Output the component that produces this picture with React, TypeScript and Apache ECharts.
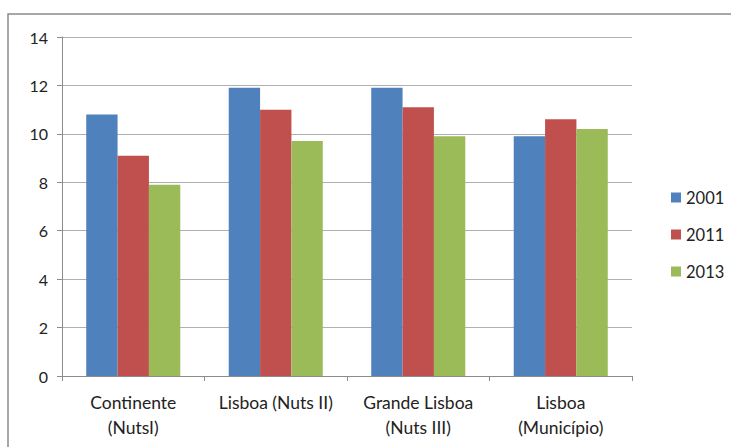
import React, { useEffect, useRef } from "react";
import * as echarts from "echarts";

const categories = [
  "Continente\n(NutsI)",
  "Lisboa (Nuts II)",
  "Grande Lisboa\n(Nuts III)",
  "Lisboa\n(Município)",
];
const years = ["2001", "2011", "2013"];
const values2001 = [10.8, 11.9, 11.9, 9.9];
const values2011 = [9.1, 11.0, 11.1, 10.6];
const values2013 = [7.9, 9.7, 9.9, 10.2];
const colors = ["#4F81BD", "#C0504D", "#9BBB59"];

const FONT = "Lato, 'Open Sans', sans-serif";

export default function App() {
  const ref = useRef<HTMLDivElement>(null);

  useEffect(() => {
    document.body.style.margin = "0";
    if (!ref.current) return;
    const chart = echarts.init(ref.current, null, { renderer: "svg" });
    const seriesData = [values2001, values2011, values2013];
    chart.setOption({
      animation: false,
      backgroundColor: "#ffffff",
      textStyle: { fontFamily: FONT },
      graphic: [
        {
          type: "rect",
          shape: { x: 8, y: 14, width: 760, height: 480 },
          style: { fill: "none", stroke: "#8a8a8a", lineWidth: 1.5 },
          silent: true,
        },
      ],
      grid: { left: 62, right: 99, top: 37, bottom: 71 },
      legend: {
        orient: "vertical",
        left: 666,
        top: 184,
        itemWidth: 10,
        itemHeight: 10,
        itemGap: 20,
        icon: "rect",
        data: years,
        textStyle: { fontSize: 16.5, color: "#222", fontFamily: FONT },
      },
      xAxis: {
        type: "category",
        data: categories,
        axisLine: { lineStyle: { color: "#8c8c8c", width: 1 } },
        axisTick: { show: true, length: 5, lineStyle: { color: "#8c8c8c" } },
        axisLabel: {
          color: "#222",
          fontSize: 17.5,
          lineHeight: 25,
          margin: 14,
          interval: 0,
          fontFamily: FONT,
        },
      },
      yAxis: {
        type: "value",
        min: 0,
        max: 14,
        interval: 2,
        axisLine: { show: true, lineStyle: { color: "#8c8c8c", width: 1 } },
        axisTick: { show: true, length: 5, lineStyle: { color: "#8c8c8c" } },
        axisLabel: { color: "#222", fontSize: 16, margin: 14, fontFamily: FONT },
        splitLine: { lineStyle: { color: "#b0b0b0", width: 1 } },
      },
      series: years.map((y, i) => ({
        name: y,
        type: "bar",
        data: seriesData[i],
        itemStyle: { color: colors[i] },
        barGap: "0%",
        barCategoryGap: "34%",
      })),
    });
    return () => chart.dispose();
  }, []);

  return <div ref={ref} style={{ width: 731, height: 447 }} />;
}
